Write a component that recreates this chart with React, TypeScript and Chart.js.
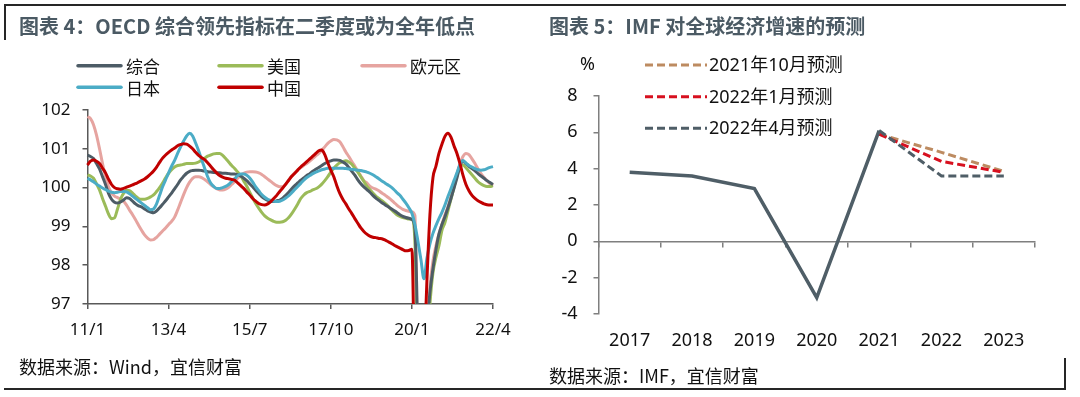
import React, { useEffect, useRef } from "react";
import { Chart, registerables } from "chart.js";

Chart.register(...registerables);

const FONT = '"Noto Sans", "Noto Sans CJK SC", sans-serif';
const CJK = '"Noto Sans CJK SC", "Noto Sans", sans-serif';

// ---------------- Left chart: OECD composite leading indicators ----------------
const monthLabels: string[] = [];
for (let y = 2011; y <= 2022; y++) {
  for (let m = 1; m <= 12; m++) {
    if (y === 2022 && m > 4) break;
    monthLabels.push(`${String(y).slice(2)}/${m}`);
  }
}
const oecdTickLabels = ["11/1", "13/4", "15/7", "17/10", "20/1", "22/4"];

const compositeCLI = [
  100.84, 100.80, 100.75, 100.62, 100.48, 100.28, 100.08, 99.85, 99.70, 99.62, 99.60, 99.63,
  99.68, 99.74, 99.72, 99.65, 99.58, 99.53, 99.50, 99.45, 99.40, 99.37, 99.35, 99.40,
  99.48, 99.57, 99.66, 99.76, 99.86, 99.97, 100.08, 100.20, 100.29, 100.37, 100.42, 100.44,
  100.45, 100.45, 100.44, 100.43, 100.41, 100.40, 100.39, 100.38, 100.38, 100.37, 100.37, 100.36,
  100.35, 100.35, 100.33, 100.30, 100.24, 100.18, 100.10, 100.02, 99.93, 99.85, 99.77, 99.71,
  99.67, 99.65, 99.64, 99.66, 99.68, 99.73, 99.80, 99.88, 99.97, 100.05, 100.12, 100.19,
  100.25, 100.31, 100.36, 100.42, 100.47, 100.52, 100.57, 100.62, 100.66, 100.69, 100.71, 100.71,
  100.70, 100.66, 100.61, 100.52, 100.42, 100.32, 100.20, 100.10, 100.02, 99.95, 99.88, 99.80,
  99.73, 99.67, 99.61, 99.56, 99.51, 99.46, 99.41, 99.36, 99.30, 99.26, 99.23, 99.21,
  99.18, 98.95, 96.2, 94.5, 95.0, 96.3, 97.3, 97.9, 98.4, 98.8, 99.05, 99.25,
  99.48, 99.72, 99.98, 100.25, 100.55, 100.68, 100.62, 100.55, 100.49, 100.43, 100.36, 100.30,
  100.24, 100.18, 100.13, 100.08,
];

const usCLI = [
  100.33, 100.30, 100.24, 100.10, 99.94, 99.72, 99.52, 99.32, 99.20, 99.22, 99.45, 99.70,
  99.85, 99.93, 99.92, 99.86, 99.78, 99.72, 99.70, 99.70, 99.72, 99.76, 99.81, 99.90,
  100.00, 100.12, 100.25, 100.37, 100.46, 100.53, 100.57, 100.58, 100.60, 100.62, 100.62, 100.62,
  100.63, 100.66, 100.71, 100.76, 100.81, 100.84, 100.87, 100.88, 100.88, 100.83, 100.75, 100.66,
  100.57, 100.49, 100.40, 100.31, 100.17, 100.04, 99.88, 99.73, 99.59, 99.47, 99.36, 99.27,
  99.21, 99.17, 99.13, 99.11, 99.11, 99.12, 99.16, 99.23, 99.33, 99.45, 99.58, 99.72,
  99.81, 99.87, 99.90, 99.94, 99.97, 100.02, 100.09, 100.18, 100.28, 100.40, 100.50, 100.58,
  100.64, 100.67, 100.69, 100.66, 100.60, 100.50, 100.40, 100.28, 100.16, 100.04, 99.95, 99.86,
  99.78, 99.72, 99.66, 99.60, 99.53, 99.44, 99.37, 99.30, 99.26, 99.23, 99.21, 99.19,
  99.18, 98.6, 95.5, 93.8, 94.2, 95.8, 97.0, 97.8, 98.2, 98.5, 98.9, 99.1,
  99.4, 99.7, 100.0, 100.3, 100.55, 100.58, 100.51, 100.42, 100.33, 100.24, 100.15, 100.09,
  100.05, 100.03, 100.03, 100.05,
];

const euroCLI = [
  101.83, 101.78, 101.62, 101.35, 101.00, 100.62, 100.28, 100.02, 99.86, 99.78, 99.74, 99.70,
  99.65, 99.55, 99.42, 99.30, 99.17, 99.03, 98.90, 98.78, 98.70, 98.65, 98.66, 98.72,
  98.80, 98.88, 98.96, 99.05, 99.13, 99.24, 99.42, 99.62, 99.82, 100.00, 100.14, 100.24,
  100.28, 100.28, 100.26, 100.21, 100.15, 100.08, 100.02, 99.97, 99.94, 99.94, 99.96, 100.01,
  100.08, 100.15, 100.24, 100.32, 100.37, 100.40, 100.41, 100.41, 100.40, 100.38, 100.34, 100.28,
  100.22, 100.16, 100.10, 100.05, 100.02, 100.02, 100.08, 100.20, 100.30, 100.38, 100.46, 100.52,
  100.57, 100.62, 100.68, 100.75, 100.82, 100.88, 100.96, 101.05, 101.14, 101.20, 101.24, 101.23,
  101.18, 101.06, 100.92, 100.80, 100.67, 100.55, 100.42, 100.30, 100.18, 100.12, 100.04, 99.99,
  99.96, 99.92, 99.86, 99.81, 99.75, 99.69, 99.62, 99.55, 99.49, 99.44, 99.41, 99.39,
  99.37, 99.28, 95.0, 93.5, 94.0, 95.8, 97.4, 98.1, 98.5, 98.8, 99.05, 99.3,
  99.5, 99.78, 100.08, 100.35, 100.6, 100.8, 100.88, 100.85, 100.74, 100.62, 100.48, 100.36,
  100.26, 100.18, 100.10, 100.05,
];

const japanCLI = [
  100.24, 100.20, 100.15, 100.09, 100.04, 99.99, 99.95, 99.91, 99.88, 99.87, 99.88, 99.90,
  99.90, 99.89, 99.84, 99.78, 99.72, 99.66, 99.60, 99.54, 99.48, 99.43, 99.45, 99.58,
  99.80, 100.02, 100.20, 100.38, 100.55, 100.70, 100.88, 101.05, 101.20, 101.33, 101.40, 101.33,
  101.15, 100.95, 100.72, 100.50, 100.28, 100.12, 100.03, 99.98, 99.98, 100.00, 100.03, 100.08,
  100.16, 100.23, 100.31, 100.35, 100.35, 100.32, 100.25, 100.14, 100.02, 99.92, 99.82, 99.75,
  99.70, 99.67, 99.65, 99.64, 99.65, 99.68, 99.73, 99.79, 99.87, 99.95, 100.03, 100.11,
  100.19, 100.26, 100.31, 100.36, 100.40, 100.43, 100.46, 100.48, 100.50, 100.50, 100.50, 100.50,
  100.50, 100.50, 100.49, 100.48, 100.47, 100.46, 100.45, 100.44, 100.42, 100.40, 100.37, 100.33,
  100.28, 100.23, 100.17, 100.12, 100.07, 100.02, 99.95, 99.87, 99.80, 99.70, 99.60, 99.48,
  99.34, 99.05, 98.62, 98.15, 97.65, 98.18, 98.55, 98.82, 99.02, 99.20, 99.36, 99.55,
  99.77, 99.97, 100.18, 100.38, 100.60, 100.70, 100.63, 100.57, 100.53, 100.49, 100.46, 100.45,
  100.46, 100.49, 100.52, 100.54,
];

const chinaCLI = [
  100.58, 100.68, 100.71, 100.68, 100.62, 100.50, 100.38, 100.22, 100.08, 100.00, 99.97, 99.96,
  99.98, 100.01, 100.04, 100.07, 100.10, 100.14, 100.18, 100.22, 100.28, 100.35, 100.43, 100.53,
  100.65, 100.76, 100.84, 100.91, 100.97, 101.02, 101.08, 101.11, 101.13, 101.12, 101.07, 101.00,
  100.91, 100.83, 100.77, 100.72, 100.64, 100.55, 100.46, 100.38, 100.31, 100.27, 100.24, 100.23,
  100.21, 100.19, 100.12, 100.05, 99.98, 99.89, 99.81, 99.72, 99.65, 99.59, 99.56, 99.55,
  99.58, 99.64, 99.72, 99.80, 99.90, 99.99, 100.09, 100.19, 100.29, 100.37, 100.45, 100.53,
  100.60, 100.67, 100.74, 100.81, 100.88, 100.95, 100.97, 100.85, 100.64, 100.45, 100.28, 100.05,
  99.85, 99.70, 99.58, 99.45, 99.33, 99.20, 99.08, 98.96, 98.87, 98.80, 98.75, 98.72,
  98.71, 98.69, 98.68, 98.65, 98.61, 98.57, 98.52, 98.48, 98.44, 98.40, 98.37, 98.38,
  98.41, 94.5, 92.0, 93.0, 95.5, 97.6, 99.3, 100.25, 100.55, 100.88, 101.12, 101.32,
  101.40, 101.30, 101.08, 100.88, 100.62, 100.32, 100.08, 99.92, 99.80, 99.72, 99.66, 99.62,
  99.58, 99.56, 99.55, 99.55,
];

// ---------------- Right chart: IMF world growth forecasts ----------------
const years = ["2017", "2018", "2019", "2020", "2021", "2022", "2023"];
const actualGrowth = [3.8, 3.6, 2.9, -3.1, 6.1, null, null];
const forecastOct2021 = [null, null, null, null, 5.9, 4.9, 3.85];
const forecastJan2022 = [null, null, null, null, 5.9, 4.4, 3.8];
const forecastApr2022 = [null, null, null, null, 6.1, 3.6, 3.6];
const growthTicks = [-4, -2, 0, 2, 4, 6, 8];

// ---------------- custom in-chart legend ----------------
const customLegend = {
  id: "customLegend",
  afterDraw(chart: any, _args: any, opts: any) {
    if (!opts || !opts.items) return;
    const ctx = chart.ctx;
    ctx.save();
    opts.items.forEach((item: any) => {
      const ds = chart.data.datasets[item.dataset];
      ctx.beginPath();
      ctx.setLineDash(ds.borderDash || []);
      ctx.lineWidth = opts.lineWidth;
      ctx.lineCap = opts.lineCap || "butt";
      ctx.strokeStyle = ds.borderColor;
      ctx.moveTo(item.x, item.y);
      ctx.lineTo(item.x + opts.lineLength, item.y);
      ctx.stroke();
      ctx.setLineDash([]);
      ctx.fillStyle = opts.color;
      ctx.font = opts.font;
      ctx.textAlign = "left";
      ctx.textBaseline = "middle";
      ctx.fillText(ds.label, item.x + opts.lineLength + opts.gap, item.y + 1);
    });
    ctx.restore();
  },
};

function leftConfig(): any {
  const base = { borderWidth: 3, pointRadius: 0, cubicInterpolationMode: "monotone", fill: false };
  const axisColor = "#595959";
  return {
    type: "line",
    data: {
      labels: monthLabels,
      datasets: [
        { ...base, label: "综合", data: compositeCLI, borderColor: "#4d5c66", order: 2 },
        { ...base, label: "美国", data: usCLI, borderColor: "#9bbb59", order: 3 },
        { ...base, label: "欧元区", data: euroCLI, borderColor: "#e6a4a0", order: 4 },
        { ...base, label: "日本", data: japanCLI, borderColor: "#4bacc6", order: 1 },
        { ...base, label: "中国", data: chinaCLI, borderColor: "#c00000", order: 0 },
      ],
    },
    options: {
      responsive: false,
      animation: false,
      events: [],
      layout: { padding: { left: 0, right: 47, top: 110, bottom: 53 } },
      plugins: {
        legend: { display: false },
        tooltip: { enabled: false },
        customLegend: {
          lineLength: 43,
          gap: 5,
          lineWidth: 3.5,
          lineCap: "round",
          color: "#111",
          font: `17px ${CJK}`,
          items: [
            { dataset: 0, x: 78, y: 65.7 },
            { dataset: 1, x: 219, y: 65.7 },
            { dataset: 2, x: 362, y: 65.7 },
            { dataset: 3, x: 78, y: 87.3 },
            { dataset: 4, x: 219, y: 87.3 },
          ],
        },
      },
      scales: {
        x: {
          type: "category",
          offset: false,
          ticks: {
            autoSkip: false,
            maxRotation: 0,
            minRotation: 0,
            padding: 11,
            color: "#111",
            font: { family: FONT, size: 17 },
            callback: (_v: any, i: number) =>
              oecdTickLabels.includes(monthLabels[i]) ? monthLabels[i] : "",
          },
          grid: {
            drawOnChartArea: false,
            tickLength: 5,
            lineWidth: 1.5,
            tickColor: (c: any) =>
              oecdTickLabels.includes(monthLabels[c.index]) ? axisColor : "rgba(0,0,0,0)",
          },
          border: { color: axisColor, width: 1.5 },
          afterFit: (s: any) => {
            s.height = 40;
          },
        },
        y: {
          min: 97,
          max: 102,
          ticks: { stepSize: 1, padding: 12, color: "#111", font: { family: FONT, size: 17 } },
          grid: { drawOnChartArea: false, tickLength: 5, color: axisColor, lineWidth: 1.5 },
          border: { color: axisColor, width: 1.5 },
          afterFit: (s: any) => {
            s.width = 87.5;
          },
        },
      },
    },
    plugins: [customLegend],
  };
}

function rightConfig(): any {
  const axisColor = "#7f7f7f";
  const dashed = { borderDash: [8, 4], borderWidth: 3, pointRadius: 0, fill: false, tension: 0 };
  return {
    type: "line",
    data: {
      labels: years,
      datasets: [
        { label: "实际", data: actualGrowth, borderColor: "#4f5e67", borderWidth: 3.5, pointRadius: 0, tension: 0, order: 0 },
        { ...dashed, label: "2021年10月预测", data: forecastOct2021, borderColor: "#bd8b61", order: 3 },
        { ...dashed, label: "2022年1月预测", data: forecastJan2022, borderColor: "#d7101f", order: 2 },
        { ...dashed, label: "2022年4月预测", data: forecastApr2022, borderColor: "#4f5e67", order: 1 },
      ],
    },
    options: {
      responsive: false,
      animation: false,
      events: [],
      layout: { padding: { left: 0, right: 45, top: 96, bottom: 43 } },
      plugins: {
        legend: { display: false },
        tooltip: { enabled: false },
        customLegend: {
          lineLength: 62,
          gap: 2,
          lineWidth: 3,
          color: "#111",
          font: `18px ${FONT}`,
          items: [
            { dataset: 1, x: 105, y: 65 },
            { dataset: 2, x: 105, y: 96.7 },
            { dataset: 3, x: 105, y: 128.3 },
          ],
        },
      },
      scales: {
        x: {
          type: "category",
          offset: true,
          ticks: { padding: 16, color: "#111", font: { family: FONT, size: 18 }, maxRotation: 0 },
          grid: { display: false, drawTicks: false },
          border: { display: false },
          afterFit: (s: any) => {
            s.height = 40;
          },
        },
        x2: {
          type: "category",
          offset: true,
          position: { y: 0 },
          ticks: { display: false },
          grid: { offset: true, drawOnChartArea: false, tickLength: 5, color: axisColor, lineWidth: 1.5 },
          border: { color: axisColor, width: 1.5 },
          afterFit: (s: any) => {
            s.height = 0;
          },
        },
        y: {
          min: -4,
          max: 8,
          afterBuildTicks: (s: any) => {
            s.ticks = growthTicks.map((v) => ({ value: v }));
          },
          ticks: { padding: 16, color: "#111", font: { family: FONT, size: 18 } },
          grid: { drawOnChartArea: false, tickLength: 5, color: axisColor, lineWidth: 1.5 },
          border: { color: axisColor, width: 1.5 },
          afterFit: (s: any) => {
            s.width = 58.5;
          },
        },
      },
    },
    plugins: [customLegend],
  };
}

const lineStyle = (l: number, t: number, w: number, h: number): React.CSSProperties => ({
  position: "absolute",
  left: l,
  top: t,
  width: w,
  height: h,
  background: "#262626",
});

const textStyle = (l: number, cy: number, size: number, extra: React.CSSProperties = {}): React.CSSProperties => ({
  position: "absolute",
  left: l,
  top: cy - 12,
  height: 24,
  lineHeight: "24px",
  fontSize: size,
  fontFamily: CJK,
  whiteSpace: "nowrap",
  color: "#111",
  ...extra,
});

export default function App() {
  const leftRef = useRef<HTMLCanvasElement>(null);
  const rightRef = useRef<HTMLCanvasElement>(null);

  useEffect(() => {
    const c1 = new Chart(leftRef.current as HTMLCanvasElement, leftConfig());
    const c2 = new Chart(rightRef.current as HTMLCanvasElement, rightConfig());
    return () => {
      c1.destroy();
      c2.destroy();
    };
  }, []);

  return (
    <div
      style={{
        position: "absolute",
        left: 0,
        top: 0,
        width: 1080,
        height: 397,
        background: "#fff",
        overflow: "hidden",
      }}
    >
      <canvas ref={leftRef} width={540} height={397} style={{ position: "absolute", left: 0, top: 0 }} />
      <canvas ref={rightRef} width={540} height={397} style={{ position: "absolute", left: 540, top: 0 }} />

      {/* frame */}
      <div style={lineStyle(4, 4, 1062, 2)} />
      <div style={lineStyle(4, 4, 2, 36)} />
      <div style={lineStyle(4, 388, 1062, 2)} />
      <div style={lineStyle(1064, 358, 2, 32)} />

      {/* titles */}
      <div style={textStyle(19, 26, 20, { fontWeight: 700, color: "#4b5a64" })}>
        图表 4：OECD 综合领先指标在二季度或为全年低点
      </div>
      <div style={textStyle(549, 26, 20, { fontWeight: 700, color: "#4b5a64" })}>
        图表 5：IMF 对全球经济增速的预测
      </div>

      {/* unit */}
      <div style={textStyle(580, 63, 18, { fontFamily: FONT })}>%</div>

      {/* sources */}
      <div style={textStyle(19, 366, 18)}>数据来源：Wind，宜信财富</div>
      <div style={textStyle(549, 375, 18)}>数据来源：IMF，宜信财富</div>
    </div>
  );
}
